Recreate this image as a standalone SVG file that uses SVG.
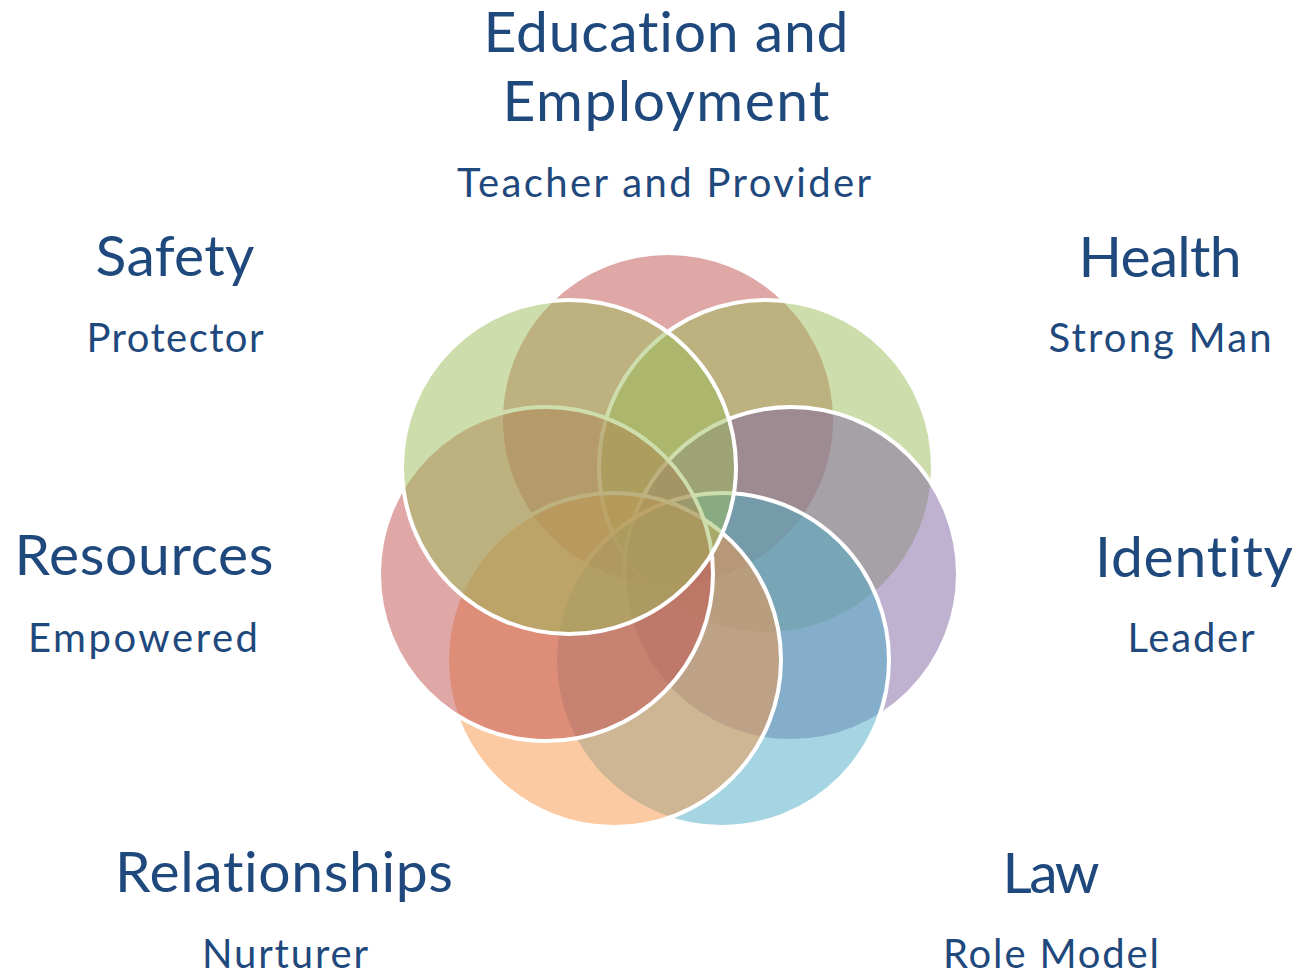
<svg xmlns="http://www.w3.org/2000/svg" width="1297" height="972" viewBox="0 0 1297 972">
  <style>
    .ring { stroke: #FFFFFF; stroke-width: 4; fill-opacity: 0.5; }
    .red { fill: #C0504D; }
    .green { fill: #9BBB59; }
    .purple { fill: #8064A2; }
    .aqua { fill: #4BACC6; }
    .orange { fill: #F79646; }
    text { font-family: Lato, "Open Sans", "Liberation Sans", sans-serif; fill: #1F497D; text-anchor: middle; font-variant-ligatures: none; }
    .title { font-size: 57px; }
    .role { font-size: 40px; }
  </style>
  <rect width="1297" height="972" fill="#FFFFFF"/>

  <!-- seven translucent circles on a heptagon ring, drawn clockwise from the top -->
  <g id="education">
    <circle class="ring red" cx="668" cy="420" r="167"/>
    <text class="title" x="666" y="52" textLength="365" lengthAdjust="spacing">Education and</text>
    <text class="title" x="666" y="121" textLength="327" lengthAdjust="spacing">Employment</text>
    <text class="role" x="664" y="197" textLength="414" lengthAdjust="spacing">Teacher and Provider</text>
  </g>
  <g id="health">
    <circle class="ring green" cx="766" cy="467" r="167"/>
    <text class="title" x="1160" y="277" textLength="163" lengthAdjust="spacing">Health</text>
    <text class="role" x="1160" y="352" textLength="223" lengthAdjust="spacing">Strong Man</text>
  </g>
  <g id="identity">
    <circle class="ring purple" cx="791" cy="574" r="167"/>
    <text class="title" x="1194" y="577" textLength="198" lengthAdjust="spacing">Identity</text>
    <text class="role" x="1191" y="652" textLength="127" lengthAdjust="spacing">Leader</text>
  </g>
  <g id="law">
    <circle class="ring aqua" cx="722" cy="660" r="167"/>
    <text class="title" x="1051" y="893" textLength="97" lengthAdjust="spacing">Law</text>
    <text class="role" x="1051" y="968" textLength="216" lengthAdjust="spacing">Role Model</text>
  </g>
  <g id="relationships">
    <circle class="ring orange" cx="614" cy="660" r="167"/>
    <text class="title" x="284" y="892" textLength="338" lengthAdjust="spacing">Relationships</text>
    <text class="role" x="285" y="968" textLength="166" lengthAdjust="spacing">Nurturer</text>
  </g>
  <g id="resources">
    <circle class="ring red" cx="546" cy="574" r="167"/>
    <text class="title" x="144" y="575" textLength="259" lengthAdjust="spacing">Resources</text>
    <text class="role" x="143" y="652" textLength="230" lengthAdjust="spacing">Empowered</text>
  </g>
  <g id="safety">
    <circle class="ring green" cx="569" cy="467" r="167"/>
    <text class="title" x="175" y="276" textLength="159" lengthAdjust="spacing">Safety</text>
    <text class="role" x="175" y="352" textLength="177" lengthAdjust="spacing">Protector</text>
  </g>
</svg>
